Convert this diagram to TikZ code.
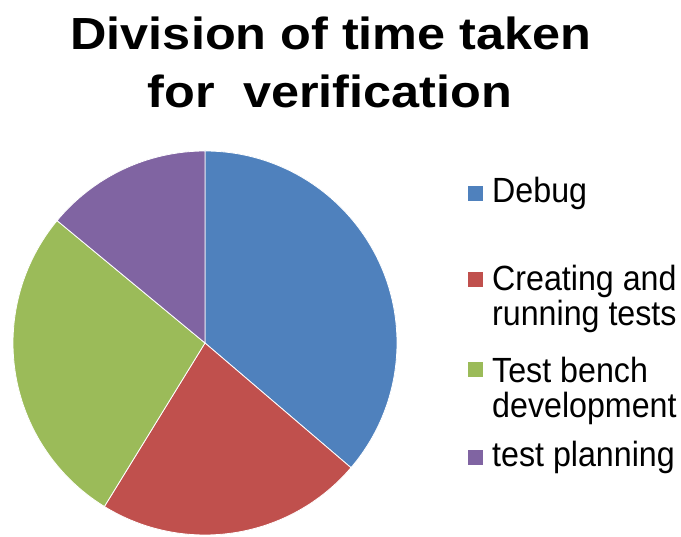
\documentclass[tikz,border=0pt]{standalone}
\usepackage{fontspec}
\setmainfont{Liberation Sans}
\newfontfamily\headfont[FakeStretch=1.12]{Liberation Sans}
\newfontfamily\keyfont[FakeStretch=0.92]{Liberation Sans}
\usetikzlibrary{positioning}
\definecolor{debugblue}{HTML}{4F81BD}
\definecolor{testsred}{HTML}{C0504D}
\definecolor{benchgreen}{HTML}{9BBB59}
\definecolor{planpurple}{HTML}{8064A2}
\begin{document}
\begin{tikzpicture}[x=1pt,y=1pt,
    slice/.style={draw=white,line width=0.8pt},
    keybox/.style={minimum size=15pt,inner sep=0pt},
    keytext/.style={anchor=base west,inner sep=0pt,align=left,font=\keyfont\fontsize{35}{35}\selectfont},
    headline/.style={anchor=base,inner sep=0pt,font=\headfont\fontsize{45}{58}\selectfont\bfseries}]
  \useasboundingbox[fill=white] (0,0) rectangle (681,537);
  \coordinate (O) at (205,194);
  \foreach \a/\b/\c in {90/-40.5/debugblue,-40.5/-121.6/testsred,-121.6/-219.6/benchgreen,-219.6/-270/planpurple}
    \fill[slice,fill=\c] (O) -- ++(\a:192) arc[start angle=\a,end angle=\b,radius=192] -- cycle;

  \path (331,487) node[headline] (title1) {Division of time taken};
  \path (330,429) node[headline] (title2) {for\ \ verification};

  \path (492,334) node[keytext] (debug) {Debug};
  \path (492,211) node[keytext] (tests) {Creating and\\running tests};
  \path (492,119) node[keytext] (bench) {Test bench\\development};
  \path (492,70) node[keytext] (plan) {test planning};

  \path (475,343.5) node[keybox,fill=debugblue] (debugkey) {};
  \path (475,257) node[keybox,fill=testsred] (testskey) {};
  \path (475,167) node[keybox,fill=benchgreen] (benchkey) {};
  \path (475,79.5) node[keybox,fill=planpurple] (plankey) {};
\end{tikzpicture}
\end{document}
